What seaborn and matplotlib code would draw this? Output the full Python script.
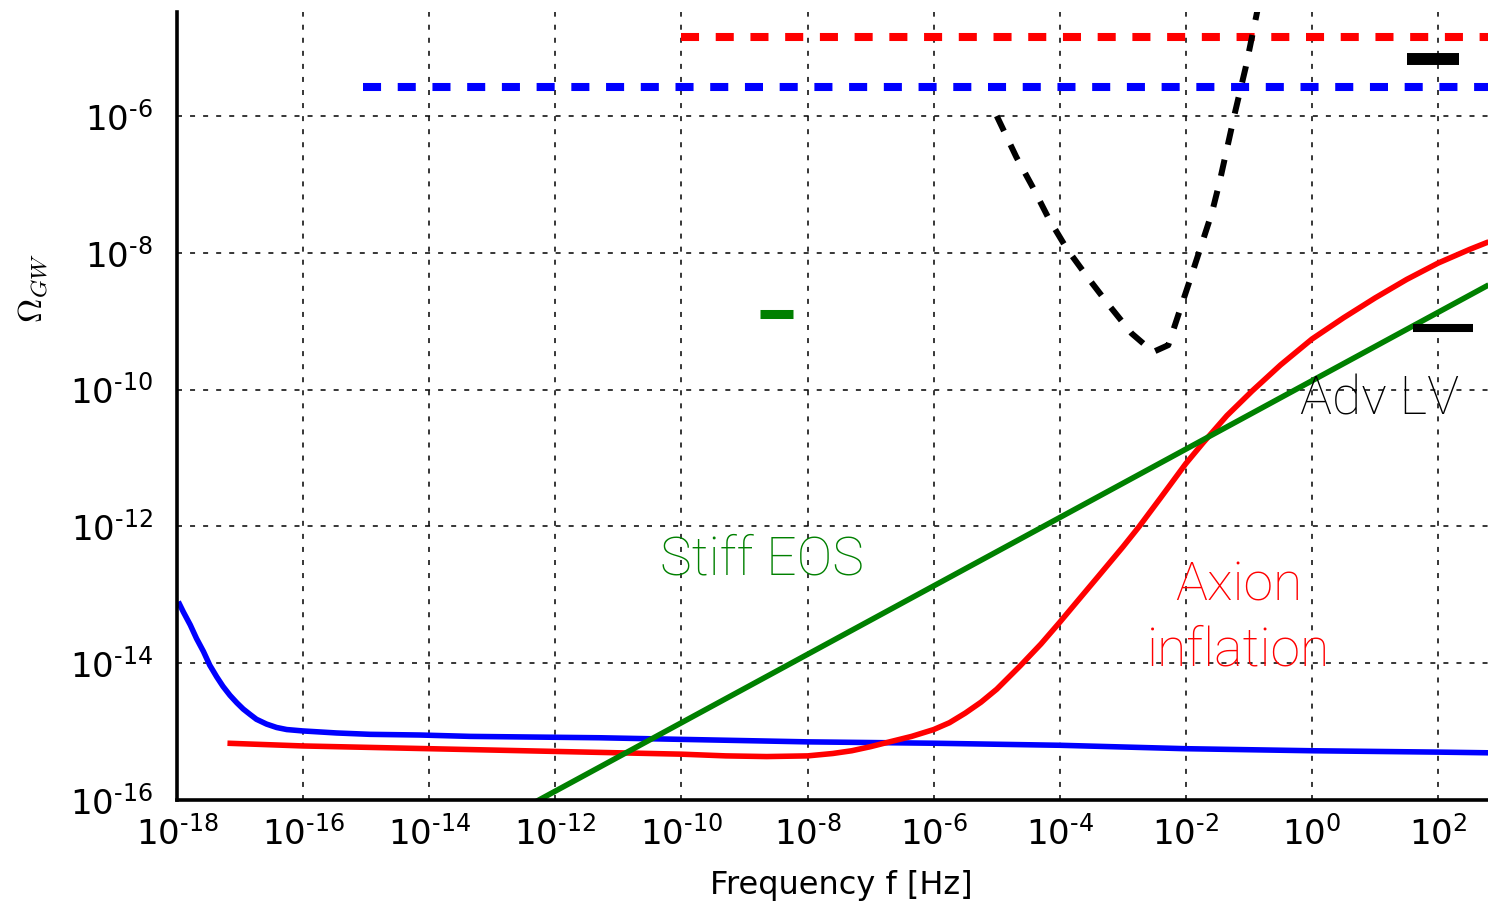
import numpy as np
import pandas as pd
import matplotlib
matplotlib.use("Agg")
import matplotlib.pyplot as plt
from matplotlib.ticker import FixedLocator, FuncFormatter, NullLocator
import seaborn as sns

# ---- data (log10 of frequency [Hz] and log10 of Omega_GW) ----
# blue solid curve
blue_logf = [-17.98, -17.90, -17.79, -17.69, -17.58, -17.48, -17.37, -17.27, -17.16,
             -17.05, -16.95, -16.84, -16.74, -16.58, -16.42, -16.26, -16.01, -15.47,
             -14.94, -14.15, -13.35, -11.3, -8.0, -6.0, -4.0, -2.0, 0.0, 2.0, 2.8]
blue_logo = [-13.10, -13.25, -13.44, -13.64, -13.83, -14.03, -14.20, -14.34, -14.47,
             -14.58, -14.67, -14.75, -14.82, -14.89, -14.94, -14.97, -14.99, -15.02,
             -15.04, -15.05, -15.07, -15.09, -15.15, -15.17, -15.20, -15.25, -15.28,
             -15.30, -15.31]

# red solid curve: axion inflation
axion_logf = [-17.2, -16.0, -14.0, -12.0, -10.0, -9.3, -8.65, -8.0, -7.6, -7.3, -7.0,
              -6.7, -6.35, -6.0, -5.75, -5.5, -5.25, -5.0, -4.63, -4.3, -4.0, -3.7,
              -3.39, -3.0, -2.74, -2.4, -2.0, -1.73, -1.35, -0.95, -0.5, 0.0, 0.5,
              1.0, 1.5, 2.0, 2.5, 2.8]
axion_logo = [-15.17, -15.21, -15.25, -15.29, -15.33, -15.355, -15.365, -15.355,
              -15.32, -15.28, -15.22, -15.15, -15.07, -14.97, -14.87, -14.73, -14.57,
              -14.38, -14.04, -13.72, -13.40, -13.07, -12.73, -12.30, -12.00, -11.58,
              -11.08, -10.78, -10.38, -10.02, -9.64, -9.26, -8.95, -8.66, -8.39,
              -8.15, -7.95, -7.84]

# green solid line: stiff equation of state
stiff_logf = [-12.5, 2.8]
stiff_logo = [-16.12, -8.47]

# black dashed sensitivity curve
sens_logf = [-5.0, -4.69, -4.43, -4.17, -3.89, -3.55, -3.20, -2.86, -2.52, -2.28,
             -2.10, -1.93, -1.76, -1.59, -1.47, -1.35, -1.22, -1.05, -0.876, -0.80]
sens_logo = [-6.00, -6.60, -7.04, -7.51, -7.94, -8.37, -8.79, -9.18, -9.45, -9.35,
             -8.85, -8.38, -7.90, -7.42, -6.98, -6.48, -5.94, -5.28, -4.50, -4.15]

# horizontal dashed bounds: (log f start, log f end, log Omega)
red_bound = (-10.0, 3.0, -4.84)
blue_bound = (-15.05, 3.0, -5.58)

# short bars: (log f start, log f end, log Omega)
black_bar_top = (1.51, 2.33, -5.17)
black_bar_low = (1.60, 2.55, -9.10)
green_bar = (-8.75, -8.23, -8.90)

x_tick_exp = list(range(-18, 3, 2))
y_tick_exp = list(range(-16, -5, 2))


def frame(logf, logo):
    return pd.DataFrame({"f": np.power(10.0, logf), "omega": np.power(10.0, logo)})


sns.set_style("white")
plt.rcParams["font.family"] = ["DejaVu Sans"]
plt.rcParams["lines.scale_dashes"] = False
plt.rcParams["lines.solid_capstyle"] = "butt"
plt.rcParams["lines.dash_capstyle"] = "butt"
plt.rcParams["lines.solid_joinstyle"] = "round"

fig = plt.figure(figsize=(14.88, 9.02), dpi=100)
ax = fig.add_axes([177 / 1488, 102 / 902, 1311 / 1488, 788 / 902])
ax.set_xscale("log")
ax.set_yscale("log")

# dashed bounds
for (f0, f1, lo), col in [(blue_bound, "blue"), (red_bound, "red")]:
    sns.lineplot(data=frame([f0, f1], [lo, lo]), x="f", y="omega", color=col,
                 lw=5.8, ax=ax, sort=False, estimator=None)
    ax.lines[-1].set_dashes((13, 12))

# solid curves
sns.lineplot(data=frame(blue_logf, blue_logo), x="f", y="omega", color="blue",
             lw=4.0, ax=ax, sort=False, estimator=None)
sns.lineplot(data=frame(axion_logf, axion_logo), x="f", y="omega", color="red",
             lw=4.0, ax=ax, sort=False, estimator=None)
sns.lineplot(data=frame(stiff_logf, stiff_logo), x="f", y="omega", color="#008000",
             lw=4.0, ax=ax, sort=False, estimator=None)

# sensitivity curve
sns.lineplot(data=frame(sens_logf, sens_logo), x="f", y="omega", color="black",
             lw=4.3, ax=ax, sort=False, estimator=None)
ax.lines[-1].set_dashes((12, 11))

# short bars
for (f0, f1, lo), col, w in [(black_bar_top, "black", 8.6),
                             (black_bar_low, "black", 5.8),
                             (green_bar, "#008000", 6.5)]:
    sns.lineplot(data=frame([f0, f1], [lo, lo]), x="f", y="omega", color=col,
                 lw=w, ax=ax, sort=False, estimator=None)

# labels on the plot
txt = dict(family=["Roboto", "DejaVu Sans"], fontweight="light", fontsize=38.5)
ax.text(10 ** -8.73, 10 ** -12.71, "Stiff EOS", color="#008000", ha="center",
        va="baseline", **txt)
ax.text(10 ** -1.17, 10 ** -13.09, "Axion", color="red", ha="center",
        va="baseline", **txt)
ax.text(10 ** -1.17, 10 ** -14.04, "inflation", color="red", ha="center",
        va="baseline", **txt)
ax.text(10 ** 1.07, 10 ** -10.37, "Adv LV", color="black", ha="center",
        va="baseline", **txt)

# axes
ax.set_xlim(1e-18, 10 ** 2.79)
ax.set_ylim(1e-16, 10 ** -4.48)


def pow_label(v, pos):
    e = int(round(np.log10(v)))
    s = str(e).replace("-", r"\text{-}")
    return r"$10^{%s}$" % s


ax.xaxis.set_major_locator(FixedLocator([10.0 ** e for e in x_tick_exp]))
ax.yaxis.set_major_locator(FixedLocator([10.0 ** e for e in y_tick_exp]))
ax.xaxis.set_minor_locator(NullLocator())
ax.yaxis.set_minor_locator(NullLocator())
ax.xaxis.set_major_formatter(FuncFormatter(pow_label))
ax.yaxis.set_major_formatter(FuncFormatter(pow_label))

ax.tick_params(axis="both", direction="in", length=9, width=1.3, color="black",
               labelsize=24.5, labelcolor="black")
ax.tick_params(axis="x", pad=11)
ax.tick_params(axis="y", pad=17.5)

ax.grid(True, which="major", color="black", lw=1.1, linestyle=(0, (3.6, 5.8)))
ax.set_axisbelow(True)

for side in ["top", "right"]:
    ax.spines[side].set_visible(False)
for side in ["left", "bottom"]:
    ax.spines[side].set_color("black")
    ax.spines[side].set_linewidth(2.6)

ax.set_xlabel("Frequency f [Hz]", fontsize=23, color="black")
ax.set_ylabel(r"$\Omega_{GW}$", fontsize=24, color="black", math_fontfamily="cm")
ax.xaxis.set_label_coords(0.507, -0.089)
ax.yaxis.set_label_coords(-0.097, 0.65)
ax.xaxis.label.set_va("top")

fig.savefig("out.png", dpi=100, facecolor="white")
